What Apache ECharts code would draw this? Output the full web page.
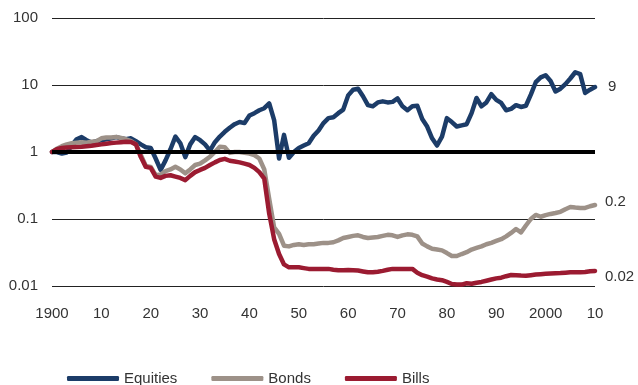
<!DOCTYPE html>
<html>
<head>
<meta charset="utf-8">
<title>Equities, Bonds, Bills</title>
<script src="https://cdn.jsdelivr.net/npm/echarts@6/dist/echarts.min.js"></script>
<style>
  html, body { margin: 0; padding: 0; background: #fff; }
  #chart { width: 638px; height: 385px; }
</style>
</head>
<body>
<div id="chart"></div>
<script>
/* years 1900-2010 */
const years = []
for (let y = 1900; y <= 2010; y++) years.push(y)

/* tick labels */
const xTickLabels = ['1900', '10', '20', '30', '40', '50', '60', '70', '80', '90', '2000', '10']
const yTickLabels = ['0.01', '0.1', '1', '10', '100']

/* end labels */
const endLabels = { Equities: '9', Bonds: '0.2', Bills: '0.02' }

/* reference level */
const baseLevel = 1

/* series values, one per year */
const equities = [
  1.0, 1.0, 0.95, 0.98, 1.25, 1.55, 1.67, 1.5, 1.38, 1.45,
  1.5, 1.55, 1.6, 1.67, 1.6, 1.55, 1.6, 1.45, 1.3, 1.18,
  1.15, 0.8, 0.54, 0.75, 1.1, 1.7, 1.35, 0.84, 1.3, 1.67,
  1.5, 1.3, 1.05, 1.4, 1.7, 2.0, 2.3, 2.6, 2.8, 2.7,
  3.5, 3.8, 4.2, 4.5, 5.3, 3.0, 0.8, 1.8, 0.82, 1.0,
  1.15, 1.25, 1.35, 1.75, 2.1, 2.7, 3.2, 3.3, 3.8, 4.3,
  7.0, 8.5, 8.8, 6.8, 5.0, 4.8, 5.5, 5.7, 5.5, 5.6,
  6.3, 4.8, 4.2, 4.8, 4.9, 3.1, 2.4, 1.6, 1.25, 1.7,
  3.2, 2.8, 2.4, 2.5, 2.6, 3.8, 6.4, 4.8, 5.5, 7.3,
  6.0, 5.4, 4.2, 4.4, 5.0, 4.7, 4.9, 7.2, 11, 13,
  14, 11.5, 8.0, 8.8, 10.3, 12.5, 15.5, 14.5, 7.6, 8.5,
  9.3
]
const bonds = [
  1.0, 1.12, 1.22, 1.3, 1.35, 1.38, 1.4, 1.38, 1.42, 1.45,
  1.6, 1.65, 1.65, 1.68, 1.62, 1.55, 1.45, 1.3, 0.9, 0.62,
  0.6, 0.45, 0.46, 0.52, 0.55, 0.6, 0.55, 0.48, 0.55, 0.64,
  0.67, 0.75, 0.85, 1.0, 1.2, 1.18, 0.97, 1.0, 1.0, 0.97,
  0.95, 0.9, 0.8, 0.55, 0.2, 0.075, 0.06, 0.04, 0.039, 0.041,
  0.042, 0.041, 0.042, 0.042, 0.043, 0.044, 0.044, 0.045, 0.048, 0.052,
  0.054, 0.056, 0.057, 0.054, 0.052, 0.053, 0.054, 0.056, 0.058, 0.057,
  0.054, 0.057, 0.059, 0.058, 0.055, 0.043, 0.039, 0.036, 0.035, 0.034,
  0.031, 0.028, 0.028, 0.03, 0.032, 0.035, 0.037, 0.039, 0.042, 0.044,
  0.047, 0.05, 0.055, 0.062, 0.071, 0.063, 0.08, 0.1, 0.115, 0.108,
  0.114, 0.119, 0.123, 0.128, 0.14, 0.151, 0.148, 0.146, 0.146, 0.155,
  0.162
]
const bills = [
  1.0, 1.1, 1.15, 1.17, 1.18, 1.19, 1.2, 1.22, 1.24, 1.27,
  1.3, 1.33, 1.36, 1.38, 1.4, 1.42, 1.41, 1.3, 0.84, 0.6,
  0.58, 0.43, 0.41, 0.44, 0.45, 0.43, 0.41, 0.38, 0.44, 0.5,
  0.54, 0.58, 0.64, 0.7, 0.76, 0.79, 0.74, 0.72, 0.7, 0.67,
  0.64, 0.58, 0.5, 0.4, 0.12, 0.05, 0.03, 0.021, 0.019, 0.019,
  0.019, 0.0185, 0.018, 0.018, 0.018, 0.018, 0.018, 0.0175, 0.0172, 0.0172,
  0.0173, 0.0172, 0.017, 0.0165, 0.016, 0.016, 0.0163, 0.0168, 0.0175, 0.018,
  0.018, 0.018, 0.018, 0.018, 0.0158, 0.0145, 0.0138, 0.013, 0.0125, 0.0122,
  0.0115, 0.0107, 0.0105, 0.0105, 0.011, 0.0108, 0.0112, 0.0115, 0.012, 0.0125,
  0.013, 0.0133, 0.014, 0.0146, 0.0145, 0.0143, 0.0142, 0.0145, 0.0148, 0.015,
  0.0152, 0.0154, 0.0155, 0.0156, 0.0158, 0.016, 0.016, 0.016, 0.0162, 0.0166,
  0.0168
]

const FONT = 'Liberation Sans'
const TEXT_COLOR = '#333'

const chart = echarts.init(document.getElementById('chart'))

/* build one line series */
function makeSeries(name, values, color, labelOffset, labelDistance) {
  return {
    name: name,
    type: 'line',
    symbol: 'none',
    data: years.map((y, i) => [y, values[i]]),
    lineStyle: { color: color, width: 4.5, cap: 'round', join: 'round' },
    itemStyle: { color: color },
    emphasis: { disabled: true },
    endLabel: {
      show: true,
      formatter: () => endLabels[name],
      color: TEXT_COLOR,
      fontFamily: FONT,
      fontSize: 15,
      distance: labelDistance,
      offset: labelOffset
    }
  }
}

const equitiesSeries = makeSeries('Equities', equities, '#1c3c68', [0, 0], 13)
/* thick black line at 1 */
equitiesSeries.markLine = {
  silent: true,
  symbol: 'none',
  label: { show: false },
  lineStyle: { color: '#000', width: 4, type: 'solid' },
  data: [{ yAxis: baseLevel }]
}

chart.setOption({
  animation: false,
  grid: { left: 52, right: 43, top: 18, bottom: 99 },
  legend: {
    left: 62,
    top: 366,
    icon: 'roundRect',
    itemWidth: 52,
    itemHeight: 5,
    itemGap: 34,
    textStyle: { color: TEXT_COLOR, fontFamily: FONT, fontSize: 15 },
    data: ['Equities', 'Bonds', 'Bills']
  },
  xAxis: {
    type: 'value',
    min: 1900,
    max: 2010,
    interval: 10,
    axisLine: { show: false },
    axisTick: { show: false },
    splitLine: { show: false },
    axisLabel: {
      margin: 20,
      color: TEXT_COLOR,
      fontFamily: FONT,
      fontSize: 15,
      formatter: v => xTickLabels[Math.round((v - 1900) / 10)]
    }
  },
  yAxis: {
    type: 'log',
    logBase: 10,
    min: 0.01,
    max: 100,
    axisLine: { show: false },
    axisTick: { show: false },
    splitLine: { show: true, lineStyle: { color: '#222', width: 1 } },
    axisLabel: {
      margin: 14,
      color: TEXT_COLOR,
      fontFamily: FONT,
      fontSize: 15,
      formatter: v => yTickLabels[Math.round(Math.log10(v)) + 2]
    }
  },
  series: [
    equitiesSeries,
    makeSeries('Bonds', bonds, '#9d9188', [0, -3], 10),
    makeSeries('Bills', bills, '#9b1b31', [0, 6], 10)
  ]
})
</script>
</body>
</html>
